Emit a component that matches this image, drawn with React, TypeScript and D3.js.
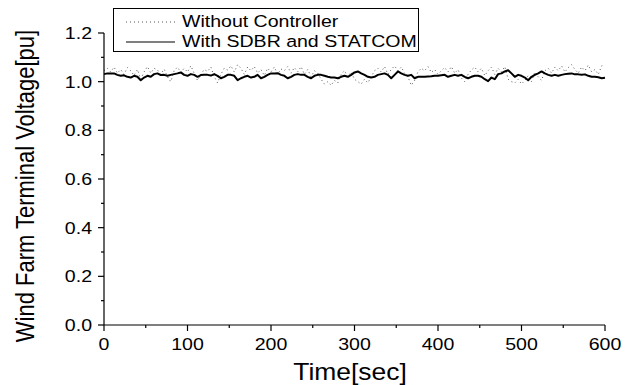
import React from "react";
import * as d3 from "d3";

const timeStep = 4; // seconds between samples
const withController: number[] = [
  1.031, 1.034, 1.034, 1.034, 1.028, 1.024, 1.026, 1.020, 1.017, 1.024,
  1.020, 1.006, 1.017, 1.024, 1.020, 1.031, 1.034, 1.027, 1.028, 1.024,
  1.028, 1.031, 1.034, 1.038, 1.028, 1.024, 1.031, 1.028, 1.020, 1.027,
  1.028, 1.028, 1.025, 1.031, 1.024, 1.014, 1.020, 1.028, 1.028, 1.024,
  1.006, 1.014, 1.020, 1.024, 1.017, 1.020, 1.028, 1.014, 1.020, 1.028,
  1.034, 1.034, 1.035, 1.028, 1.024, 1.014, 1.020, 1.028, 1.031, 1.028,
  1.028, 1.020, 1.014, 1.024, 1.028, 1.028, 1.024, 1.020, 1.017, 1.017,
  1.014, 1.020, 1.024, 1.020, 1.028, 1.038, 1.042, 1.034, 1.028, 1.020,
  1.017, 1.020, 1.028, 1.031, 1.034, 1.028, 1.014, 1.028, 1.042, 1.034,
  1.028, 1.024, 1.028, 1.014, 1.020, 1.020, 1.020, 1.021, 1.022, 1.024,
  1.024, 1.026, 1.028, 1.020, 1.024, 1.028, 1.024, 1.028, 1.020, 1.014,
  1.020, 1.024, 1.024, 1.020, 1.010, 1.002, 1.017, 1.010, 1.031, 1.034,
  1.042, 1.047, 1.034, 1.020, 1.028, 1.024, 1.017, 1.006, 1.020, 1.028,
  1.034, 1.042, 1.034, 1.028, 1.024, 1.028, 1.024, 1.028, 1.031, 1.033,
  1.034, 1.030, 1.030, 1.028, 1.030, 1.024, 1.020, 1.020, 1.018, 1.014,
  1.016,
];
const withoutController: number[] = [
  1.045, 1.055, 1.040, 1.060, 1.035, 1.050, 1.030, 1.058, 1.045, 1.025,
  1.050, 1.010, 1.040, 1.062, 1.035, 1.055, 1.048, 1.030, 1.052, 1.020,
  1.000, 1.045, 1.060, 1.038, 1.055, 1.040, 1.065, 1.035, 1.005, 1.030,
  1.050, 1.042, 1.060, 1.020, 0.995, 1.030, 1.055, 1.048, 1.065, 1.040,
  1.070, 1.055, 1.030, 1.060, 1.045, 1.062, 1.035, 1.050, 1.025, 1.055,
  1.040, 1.060, 1.030, 1.052, 1.045, 1.062, 1.035, 1.058, 1.040, 1.062,
  1.030, 1.050, 1.020, 1.045, 1.035, 1.010, 0.990, 1.000, 0.985, 1.005,
  0.995, 1.030, 1.045, 1.020, 1.040, 1.010, 1.000, 0.990, 1.010, 0.995,
  1.020, 1.045, 1.055, 1.040, 1.062, 1.030, 1.050, 1.065, 1.045, 1.060,
  1.035, 1.020, 0.985, 1.005, 1.040, 1.055, 1.045, 1.062, 1.038, 1.050,
  1.030, 1.045, 1.058, 1.040, 1.062, 1.035, 1.050, 1.015, 1.000, 1.030,
  1.048, 1.060, 1.040, 1.055, 1.025, 1.045, 1.060, 1.030, 1.055, 1.040,
  1.062, 1.010, 1.000, 0.995, 1.010, 0.990, 1.005, 1.025, 1.000, 1.040,
  1.020, 1.005, 1.045, 1.055, 1.035, 1.060, 1.045, 1.065, 1.040, 1.058,
  1.070, 1.050, 1.035, 1.060, 1.045, 1.068, 1.040, 1.050, 1.030, 1.065,
  1.070,
];
const xTicks = [0, 100, 200, 300, 400, 500, 600];
const yTicks = [0.0, 0.2, 0.4, 0.6, 0.8, 1.0, 1.2];
const xMinorTicks = [50, 150, 250, 350, 450, 550];
const yMinorTicks = [0.1, 0.3, 0.5, 0.7, 0.9, 1.1];
const seriesNames = ["Without Controller", "With SDBR and STATCOM"];
const xTitle = "Time[sec]";
const yTitle = "Wind Farm Terminal Voltage[pu]";

const FONT = "'Liberation Sans', Arial, sans-serif";
const SX = 1.15;

export default function App() {
  const x = d3.scaleLinear().domain([0, 600]).range([104, 605]);
  const y = d3.scaleLinear().domain([0, 1.2]).range([325, 33]);
  const line = d3
    .line<number>()
    .x((_, i) => x(i * timeStep))
    .y((d) => y(d));

  return (
    <svg
      width={628}
      height={385}
      style={{ position: "absolute", left: 0, top: 0, background: "#fff" }}
      fontFamily={FONT}
    >
      <rect width={628} height={385} fill="#fff" />
      {/* data */}
      <path
        d={line(withoutController) || ""}
        fill="none"
        stroke="#555"
        strokeWidth={1}
        strokeDasharray="1,3"
      />
      <path
        d={line(withController) || ""}
        fill="none"
        stroke="#000"
        strokeWidth={2}
        strokeLinejoin="round"
      />
      {/* axes */}
      <line x1={x(0)} x2={x(600)} y1={y(0)} y2={y(0)} stroke="#000" strokeWidth={1.2} />
      <line x1={x(0)} x2={x(0)} y1={y(0)} y2={y(1.2)} stroke="#000" strokeWidth={1.2} />
      {xTicks.map((t) => (
        <g key={"xt" + t}>
          <line x1={x(t)} x2={x(t)} y1={y(0)} y2={y(0) + 6} stroke="#000" strokeWidth={1.2} />
          <text
            transform={`translate(${x(t)},350) scale(${SX},1)`}
            textAnchor="middle"
            fontSize={17}
          >
            {t}
          </text>
        </g>
      ))}
      {xMinorTicks.map((t) => (
        <line key={"xm" + t} x1={x(t)} x2={x(t)} y1={y(0)} y2={y(0) + 3} stroke="#000" strokeWidth={1.2} />
      ))}
      {yTicks.map((t) => (
        <g key={"yt" + t}>
          <line x1={x(0) - 6} x2={x(0)} y1={y(t)} y2={y(t)} stroke="#000" strokeWidth={1.2} />
          <text
            transform={`translate(92,${y(t) + 6}) scale(${SX},1)`}
            textAnchor="end"
            fontSize={17}
          >
            {t.toFixed(1)}
          </text>
        </g>
      ))}
      {yMinorTicks.map((t) => (
        <line key={"ym" + t} x1={x(0) - 3} x2={x(0)} y1={y(t)} y2={y(t)} stroke="#000" strokeWidth={1.2} />
      ))}
      <text
        transform={`translate(350,380) scale(${SX},1)`}
        textAnchor="middle"
        fontSize={23}
      >
        {xTitle}
      </text>
      <text
        transform={`translate(34,186) scale(${SX},1) rotate(-90)`}
        textAnchor="middle"
        fontSize={22}
      >
        {yTitle}
      </text>
      {/* legend */}
      <rect x={113.5} y={8.5} width={305} height={43} fill="#fff" stroke="#000" strokeWidth={1} />
      <line x1={126} x2={175} y1={22} y2={22} stroke="#555" strokeWidth={1} strokeDasharray="1,3" />
      <line x1={126} x2={175} y1={42} y2={42} stroke="#000" strokeWidth={1.2} />
      <text transform={`translate(182,27) scale(${SX},1)`} fontSize={17}>
        {seriesNames[0]}
      </text>
      <text transform={`translate(182,47) scale(${SX},1)`} fontSize={17}>
        {seriesNames[1]}
      </text>
    </svg>
  );
}
